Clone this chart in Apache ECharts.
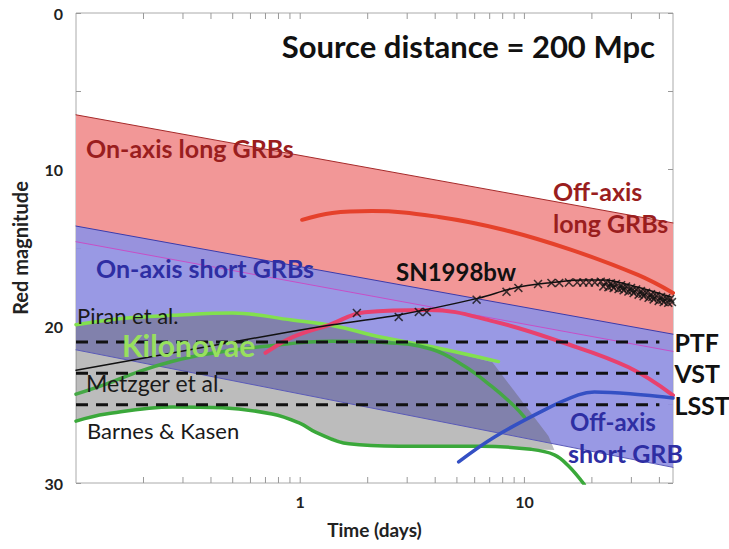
<!DOCTYPE html>
<html>
<head>
<meta charset="utf-8">
<script src="https://cdn.jsdelivr.net/npm/echarts@6/dist/echarts.min.js"></script>
<style>html,body{margin:0;padding:0;background:#fff}#chart{width:729px;height:549px}</style>
</head>
<body>
<div id="chart"></div>
<script>
// ---- data (time in days, red magnitude) ----
const bandT = [0.1, 46];
const longGrbTop = [6.5, 13.4];
const longGrbBottom = [14.6, 21.6];
const shortGrbTop = [13.6, 20.5];
const shortGrbBottom = [21.5, 29.0];

const piranT = [0.1, 0.16, 0.27, 0.5, 0.92, 1.39, 2.31, 3.86, 7.66];
const piranM = [19.9, 19.5, 19.3, 19.15, 19.6, 19.95, 20.7, 21.3, 22.25];

const metzgerT = [0.1, 0.136, 0.192, 0.27, 0.378, 0.70, 1.39, 2.31, 3.86, 5.41, 7.13, 9.03, 10];
const metzgerM = [24.33, 23.69, 22.87, 22.23, 21.78, 21.27, 20.96, 21.02, 21.46, 22.55, 23.82, 25.1, 25.8];

const barnesT = [0.1, 0.136, 0.27, 0.45, 0.75, 1.0, 1.17, 1.65, 2.75, 6.44, 10.7, 13.6, 15.7, 18.5];
const barnesM = [26.05, 25.6, 25.15, 25.2, 25.6, 26.2, 26.75, 27.5, 27.65, 27.65, 27.85, 28.2, 28.9, 30.1];

const shadeT = [0.1, 0.16, 0.27, 0.5, 0.92, 1.39, 2.31, 3.86, 7.2, 12.8, 13.6, 10.7, 6.44, 2.75, 1.65, 1.17, 1.0, 0.75, 0.45, 0.27, 0.136, 0.1];
const shadeM = [19.9, 19.5, 19.3, 19.15, 19.6, 19.95, 20.7, 21.3, 22.3, 27.0, 27.9, 27.85, 27.65, 27.65, 27.5, 26.75, 26.2, 25.6, 25.2, 25.15, 25.6, 26.05];

const offLongT = [1.02, 1.39, 2.09, 4.15, 8.15, 16.2, 32.1, 46];
const offLongM = [13.2, 12.76, 12.64, 13.02, 13.85, 15.12, 16.72, 17.87];

const offPinkT = [0.70, 0.92, 1.35, 1.94, 3.75, 7.36, 14.6, 29.0, 46];
const offPinkM = [21.7, 20.7, 19.9, 19.1, 18.95, 19.7, 21.0, 22.6, 24.4];

const offShortT = [5.09, 7.36, 12.3, 17.4, 20.5, 34.1, 46];
const offShortM = [28.65, 27.06, 25.33, 24.38, 24.19, 24.38, 24.57];

const snLineT = [0.1, 0.75, 1.39, 2.75, 6.25, 9.03, 12.8, 17.9, 22.7, 32.1, 45];
const snLineM = [22.8, 20.55, 19.9, 19.27, 18.2, 17.55, 17.23, 17.04, 17.04, 17.5, 18.12];

const snPointT = [1.79, 2.75, 3.38, 3.67, 6.12, 8.32, 9.4, 11.5, 13.2, 14.3, 15.8, 17.2, 18.3, 19.4, 20.6,
  21.9, 23.1, 24.3, 25.6, 27.0, 28.4, 29.9, 31.5, 33.1, 34.9, 36.7, 38.7, 40.7, 42.9, 44.7,
  22.5, 23.7, 25.0, 26.3, 27.7, 29.1, 30.7, 32.3, 34.0, 35.8, 37.7, 39.7, 41.8, 43.8, 45.5,
  24.6, 27.3, 30.2, 33.6, 37.2, 41.2];
const snPointM = [19.15, 19.4, 19.08, 19.08, 18.3, 17.8, 17.55, 17.3, 17.23, 17.23, 17.2, 17.2, 17.2, 17.2, 17.2,
  17.15, 17.2, 17.25, 17.3, 17.38, 17.45, 17.55, 17.65, 17.75, 17.85, 17.95, 18.05, 18.12, 18.2, 18.25,
  17.45, 17.5, 17.55, 17.62, 17.7, 17.78, 17.88, 17.98, 18.08, 18.18, 18.28, 18.38, 18.45, 18.5, 18.45,
  17.4, 17.55, 17.72, 17.92, 18.12, 18.3];

const surveyNames = ['PTF', 'VST', 'LSST'];
const surveyLimits = [21, 23, 25];
const surveyT = [0.1, 40];

const xTickValues = [0.2,0.3,0.4,0.5,0.6,0.7,0.8,0.9,1,2,3,4,5,6,7,8,9,10,20,30,40];
const xLabelValues = [1, 10];
const yLabelValues = [0, 10, 20, 30];

// ---- helpers ----
const pairs = (ts, ms) => ts.map((t, i) => [t, ms[i]]);
const FONT = 'Lato, "Noto Sans", sans-serif';

function polygon(name, pts, style, z) {
  return {
    type: 'custom', name, coordinateSystem: 'cartesian2d', z, clip: true, silent: true,
    data: pts,
    renderItem(params, api) {
      if (params.dataIndex !== 0) return null;
      return { type: 'polygon', shape: { points: pts.map(p => api.coord(p)) }, style };
    }
  };
}
function band(ts, top, bottom) {
  return [[ts[0], top[0]], [ts[1], top[1]], [ts[1], bottom[1]], [ts[0], bottom[0]]];
}
function curve(name, ts, ms, color, width, z, smooth) {
  return {
    type: 'line', name, data: pairs(ts, ms), showSymbol: false, symbol: 'none',
    smooth: smooth === undefined ? 0.4 : smooth, z, silent: true,
    lineStyle: { color, width, cap: 'round' }
  };
}

const series = [
  polygon('On-axis long GRBs', band(bandT, longGrbTop, longGrbBottom), { fill: '#f29797' }, 2),
  polygon('On-axis short GRBs', band(bandT, shortGrbTop, shortGrbBottom), { fill: 'rgba(145,145,226,0.93)' }, 3),
  polygon('Kilonova range', pairs(shadeT, shadeM), { fill: 'rgba(95,95,95,0.42)' }, 4),
  curve('long top', bandT, longGrbTop, '#a52a2a', 1, 5, false),
  curve('long bottom', bandT, longGrbBottom, '#c64fc6', 1, 5, false),
  curve('short top', bandT, shortGrbTop, '#3b3bab', 1, 5, false),
  curve('short bottom', bandT, shortGrbBottom, '#5a5ab8', 1, 5, false),
  curve('Piran et al.', piranT, piranM, '#82e04e', 3.5, 6),
  curve('Metzger et al.', metzgerT, metzgerM, '#45a845', 3.5, 6),
  curve('Barnes & Kasen', barnesT, barnesM, '#3aa83a', 3.5, 6),
  curve('Off-axis long GRBs', offLongT, offLongM, '#e5412b', 4, 6),
  curve('Off-axis (pink)', offPinkT, offPinkM, '#e8416e', 4, 6),
  curve('Off-axis short GRB', offShortT, offShortM, '#3450c4', 3.5, 6),
  curve('SN1998bw line', snLineT, snLineM, '#111', 1.5, 7, 0.3),
  {
    type: 'scatter', name: 'SN1998bw', data: pairs(snPointT, snPointM), z: 8, silent: true,
    symbol: 'path://M0,1.2L1.2,0L5,3.8L8.8,0L10,1.2L6.2,5L10,8.8L8.8,10L5,6.2L1.2,10L0,8.8L3.8,5Z',
    symbolSize: 9, itemStyle: { color: '#111' }
  },
  ...surveyNames.map((n, i) => ({
    type: 'line', name: n, data: surveyT.map(t => [t, surveyLimits[i]]), z: 9, silent: true,
    showSymbol: false, symbol: 'none',
    lineStyle: { color: '#111', width: 3, type: [12, 8] },
    endLabel: { show: true, formatter: '{a}', distance: 15, fontSize: 25, fontWeight: 'bold', color: '#111', fontFamily: FONT }
  })),
  {
    type: 'custom', name: 'ticks', coordinateSystem: 'cartesian2d', z: 10, silent: true, clip: false,
    data: xTickValues.map(v => [v, 0]),
    renderItem(params, api) {
      const t = api.value(0);
      const a = api.coord([t, 0]);
      const b = api.coord([t, 30]);
      return { type: 'group', children: [
        { type: 'line', shape: { x1: a[0], y1: a[1], x2: a[0], y2: a[1] + 6 }, style: { stroke: '#999', lineWidth: 1 } },
        { type: 'line', shape: { x1: b[0], y1: b[1], x2: b[0], y2: b[1] - 6 }, style: { stroke: '#999', lineWidth: 1 } }
      ]};
    }
  }
];

function txt(text, x, y, size, color, weight, align) {
  return { type: 'text', x, y, z: 100, silent: true,
    style: { text, fill: color, font: (weight || 'bold') + ' ' + size + 'px ' + FONT, align: align || 'left', verticalAlign: 'middle' } };
}
const RED = '#9a1e1e', BLUE = '#2e2ea3';

const chart = echarts.init(document.getElementById('chart'), null, { renderer: 'svg' });
chart.setOption({
  animation: false,
  backgroundColor: '#fff',
  grid: { left: 76, right: 56, top: 13, bottom: 66, show: true, borderColor: '#aaa', borderWidth: 1, backgroundColor: 'transparent' },
  xAxis: {
    type: 'log', logBase: 10, min: 0.1, max: 46,
    axisLine: { show: false }, axisTick: { show: false }, splitLine: { show: false }, minorTick: { show: false },
    axisLabel: {
      margin: 10, fontSize: 16, fontWeight: 'bold', color: '#222', fontFamily: FONT,
      formatter: v => { const r = Math.round(v * 1000) / 1000; return xLabelValues.includes(r) ? String(r) : ''; }
    },
    name: 'Time (days)', nameLocation: 'middle', nameGap: 37,
    nameTextStyle: { fontSize: 19, fontWeight: 'bold', color: '#222', fontFamily: FONT }
  },
  yAxis: [{
    type: 'value', inverse: true, min: 0, max: 30, interval: 5,
    axisLine: { show: false }, splitLine: { show: false },
    axisTick: { show: true, inside: true, length: 5, lineStyle: { color: '#999' } },
    axisLabel: { margin: 13, fontSize: 16, fontWeight: 'bold', color: '#222', fontFamily: FONT,
      formatter: v => yLabelValues.includes(v) ? String(v) : '' },
    name: 'Red magnitude', nameLocation: 'middle', nameGap: 46,
    nameTextStyle: { fontSize: 20, fontWeight: 'bold', color: '#222', fontFamily: FONT }
  }, {
    type: 'value', inverse: true, min: 0, max: 30, interval: 5, position: 'right',
    axisLine: { show: false }, splitLine: { show: false },
    axisTick: { show: true, inside: true, length: 5, lineStyle: { color: '#999' } },
    axisLabel: { show: false }
  }],
  series,
  graphic: [
    txt('Source distance = 200 Mpc', 655, 46, 31, '#111', 'bold', 'right'),
    txt('On-axis long GRBs', 86, 148, 25, RED),
    txt('Off-axis', 553, 191, 25, RED),
    txt('long GRBs', 553, 223, 25, RED),
    txt('On-axis short GRBs', 96, 268, 25, BLUE),
    txt('SN1998bw', 396, 271, 24, '#111'),
    txt('Piran et al.', 77, 315, 22, '#1a1a1a', 'normal'),
    txt('Kilonovae', 122, 345, 30, '#98e05e'),
    txt('Metzger et al.', 86, 383, 23, '#1a1a1a', 'normal'),
    txt('Barnes & Kasen', 87, 430, 22, '#1a1a1a', 'normal'),
    txt('Off-axis', 570, 421, 24, BLUE),
    txt('short GRB', 568, 453, 25, BLUE)
  ]
});
</script>
</body>
</html>
